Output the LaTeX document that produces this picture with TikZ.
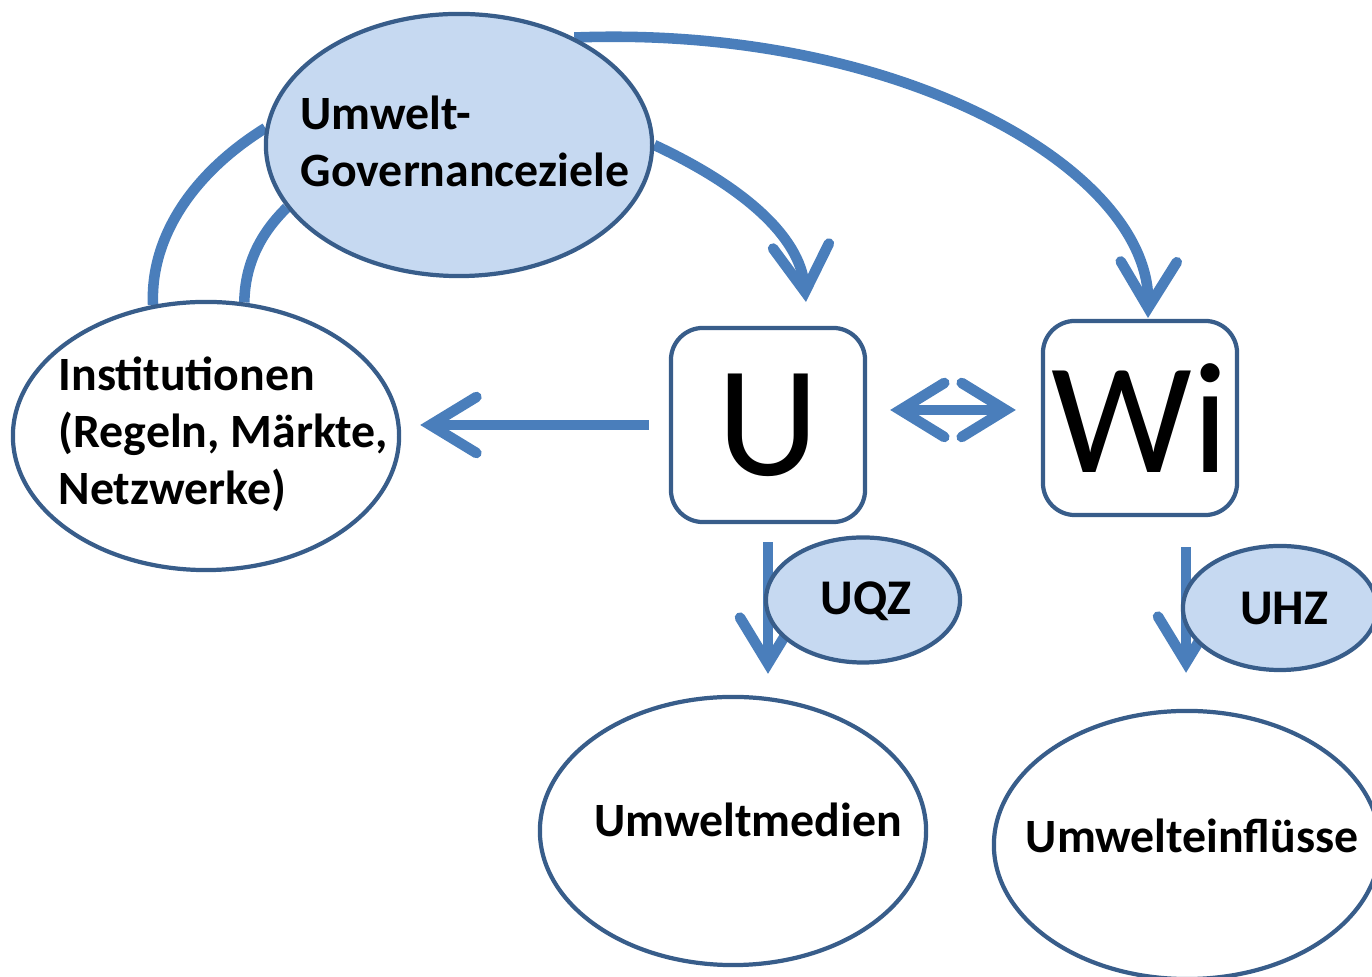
\documentclass[tikz,border=0pt]{standalone}
\usepackage{fontspec}
\setmainfont{Carlito}
\usetikzlibrary{arrows.meta,backgrounds,shapes.geometric}
\definecolor{pfeil}{HTML}{4A7EBB}
\definecolor{rand}{HTML}{385D8A}
\definecolor{fuell}{HTML}{C6D9F1}
\tikzset{
  ell/.style={ellipse, draw=rand, line width=1.2pt, inner sep=0pt},
  zielell/.style={ell, fill=fuell},
  weissell/.style={ell, fill=white},
  kasten/.style={draw=rand, line width=1.2pt, rounded corners=0.32cm, fill=white,
    minimum width=1.94cm, minimum height=1.94cm, inner sep=0pt,
    font=\fontsize{45pt}{48pt}\selectfont},
  lbl/.style={align=left, inner sep=0pt, font=\fontsize{13.6pt}{16.2pt}\selectfont\bfseries},
  klbl/.style={inner sep=0pt, font=\fontsize{14.2pt}{16pt}\selectfont\bfseries},
  spitze/.style={-{Straight Barb[length=4.6mm,width=5.6mm,line cap=round,line join=miter]}},
  bogen/.style={draw=pfeil, line width=3pt},
  flow/.style={bogen, spitze},
  flow2/.style={bogen, {Straight Barb[length=4.4mm,width=5.4mm,line cap=round,line join=miter]}-{Straight Barb[length=4.4mm,width=5.4mm,line cap=round,line join=miter]}}
}
\begin{document}
\begin{tikzpicture}[x=0.01cm, y=-0.01cm]
    \useasboundingbox (0,0) rectangle (1372,977);

    % Ellipsen und Kaesten
    \node[zielell, minimum width=3.86cm, minimum height=2.62cm] (goal) at (459,145) {};
    \node[lbl, anchor=west] (goalT) at (300,141) {Umwelt-\\Governanceziele};

    \node[weissell, minimum width=3.86cm, minimum height=2.68cm] (inst) at (206,436) {};
    \node[lbl, anchor=west] (instT) at (58,434) {Institutionen\\(Regeln, Märkte,\\Netzwerke)};

    \node[kasten] (U)  at (768,425) {U};
    \node[kasten] (Wi) at (1140,418) {Wi};

    \node[zielell, minimum width=1.94cm, minimum height=1.25cm] (uqz) at (863,600) {};
    \node[klbl] (uqzT) at (866,601) {UQZ};
    \node[zielell, minimum width=1.94cm, minimum height=1.24cm] (uhz) at (1280,608) {};
    \node[klbl] (uhzT) at (1284,609) {UHZ};

    \node[weissell, minimum width=3.86cm, minimum height=2.68cm] (medien) at (733,831) {};
    \node[lbl] (medienT) at (748,820) {Umweltmedien};
    \node[weissell, minimum width=3.86cm, minimum height=2.68cm] (einfl) at (1187,845) {};
    \node[lbl] (einflT) at (1192,836) {Umwelteinflüsse};

    \coordinate (uin) at (806,302);
    \coordinate (win) at (1148,318);

    % Pfeile hinter den Knoten
    \begin{scope}[on background layer]
        \draw[flow] (goal.east) .. controls (740,185) and (800,235) .. (uin);
        \draw[flow] (goal.43) .. controls (900,25) and (1150,170) .. (win);
        \draw[bogen] (goal.175) .. controls (190,175) and (150,240) .. (inst.112);
        \draw[bogen] (goal.200) .. controls (262,232) and (245,262) .. (inst.74);

        \draw[flow, shorten <=2mm, shorten >=1.9mm] (U.west) -- (U.west -| inst.east);
        \draw[flow2, shorten <=2.3mm, shorten >=2.5mm] ([yshift=1.5mm]U.east) -- ([yshift=1.5mm]U.east -| Wi.west);

        \draw[flow, shorten <=1.8mm, shorten >=2.1mm] (U.south) -- (U.south |- medien.north);
        \draw[flow, shorten <=3mm, shorten >=3.6mm] ([xshift=4.6mm]Wi.south) -- ([xshift=4.6mm]Wi.south |- einfl.north);
    \end{scope}
\end{tikzpicture}
\end{document}
